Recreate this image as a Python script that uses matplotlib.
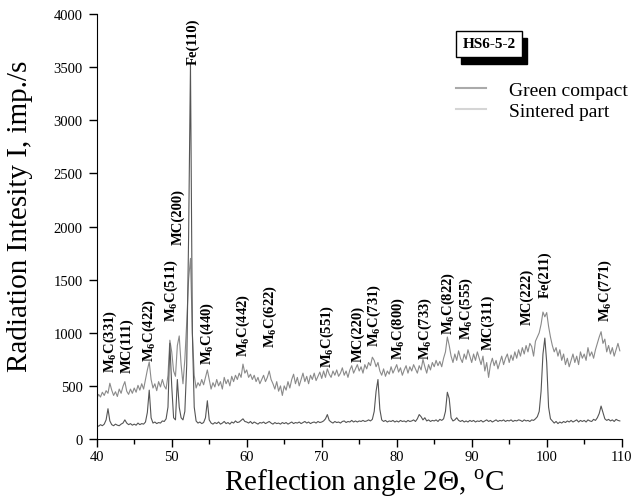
import matplotlib.pyplot as plt
import numpy as np
from matplotlib.lines import Line2D
from matplotlib.patches import Rectangle

plt.rcParams['font.family'] = 'Liberation Serif'
plt.rcParams['mathtext.fontset'] = 'custom'
plt.rcParams['mathtext.rm'] = 'Liberation Serif'
plt.rcParams['mathtext.bf'] = 'Liberation Serif:bold'

# scan grid, 2theta in degrees (0.25 deg step)
two_theta = np.arange(40.0, 110.0, 0.25)

# green compact (upper, noisy curve), imp./s
green = [
    380, 420, 395, 440, 410, 455, 430, 525, 460, 410, 445, 400, 470, 430, 495, 540, 450, 420, 470, 430,
    480, 440, 505, 460, 520, 470, 560, 650, 725, 560, 480, 520, 455, 540, 490, 560, 500, 470, 600, 930,
    820, 640, 590, 880, 970, 700, 520, 750, 1100, 1500, 1700, 1000, 600, 480, 530, 500, 560, 510, 580, 650,
    560, 470, 530, 490, 560, 500, 540, 470, 580, 520, 560, 500, 590, 540, 600, 560, 620, 580, 705, 620,
    650, 580, 610, 560, 600, 540, 580, 520, 560, 600, 540, 580, 640, 560, 520, 470, 540, 450, 500, 410,
    500, 460, 540, 480, 560, 610, 520, 580, 500, 560, 620, 540, 590, 520, 600, 560, 620, 550, 590, 630,
    570, 640, 580, 660, 610, 580, 640, 600, 650, 590, 620, 670, 600, 640, 580, 650, 690, 620, 660, 700,
    640, 680, 620, 700, 660, 720, 690, 770, 740, 680, 720, 640, 600, 660, 590, 640, 610, 680, 620, 660,
    700, 630, 670, 600, 650, 690, 620, 680, 640, 700, 660, 620, 690, 650, 750, 680, 620, 700, 650, 720,
    680, 740, 690, 730, 680, 760, 820, 960, 880, 780, 720, 800, 740, 830, 760, 720, 800, 750, 840, 780,
    720, 800, 740, 820, 760, 700, 780, 640, 720, 580, 700, 760, 690, 740, 660, 720, 780, 700, 760, 800,
    720, 790, 740, 820, 760, 840, 780, 860, 800, 880, 820, 900, 870, 780, 920, 960, 1000, 1080, 1195, 1150,
    1190, 1060, 960, 880, 820, 860, 780, 840, 740, 800, 700, 760, 680, 740, 800, 720, 780, 700, 820, 760,
    800, 740, 860, 780, 820, 760, 840, 900, 960, 1010, 900, 940, 820, 880, 800, 860, 780, 840, 900, 830,
]

# sintered part (lower curve, sharp peaks), imp./s
sintered = [
    130, 120, 135, 125, 140, 180, 285, 170, 135, 125, 140, 130, 125, 140, 150, 180, 150, 135, 145, 130,
    140, 130, 150, 135, 145, 140, 160, 250, 460, 200, 150, 160, 145, 155, 150, 170, 165, 190, 300, 900,
    500, 200, 180, 560, 300, 200, 180, 260, 700, 1900, 3530, 1000, 300, 170, 150, 160, 145, 155, 200, 360,
    180, 150, 140, 155, 145, 160, 140, 150, 165, 145, 155, 140, 160, 150, 170, 155, 160, 175, 190, 165,
    160, 150, 165, 145, 160, 150, 140, 155, 150, 160, 145, 155, 165, 150, 140, 155, 145, 150, 140, 155,
    145, 155, 140, 150, 160, 145, 155, 150, 160, 145, 155, 165, 150, 160, 145, 155, 160, 150, 165, 155,
    160, 170, 190, 230, 175, 160, 150, 165, 155, 160, 150, 165, 170, 155, 165, 160, 175, 160, 170, 160,
    170, 165, 175, 165, 170, 180, 170, 185, 260, 450, 560, 280, 180, 165, 175, 160, 170, 165, 175, 160,
    170, 160, 175, 165, 170, 160, 175, 165, 170, 180, 165, 190, 230, 210, 180, 200, 170, 180, 165, 175,
    170, 180, 165, 185, 175, 190, 260, 440, 380, 200, 170, 180, 200, 175, 165, 175, 160, 170, 160, 175,
    165, 175, 160, 170, 165, 175, 160, 170, 180, 165, 175, 160, 170, 180, 165, 175, 170, 180, 165, 175,
    170, 180, 165, 175, 170, 180, 175, 165, 180, 170, 175, 165, 180, 175, 190, 210, 260, 450, 800, 950,
    720, 300, 190, 170, 150, 165, 145, 160, 150, 165, 155, 170, 160, 175, 160, 170, 180, 160, 175, 165,
    175, 160, 180, 170, 165, 185, 175, 200, 240, 310, 250, 190, 175, 185, 170, 180, 165, 185, 175, 170,
]

# phase labels and where they sit
peak_labels = ['M$_\\mathbf{6}$C(331)', 'MC(111)', 'M$_\\mathbf{6}$C(422)', 'M$_\\mathbf{6}$C(511)',
               'MC(200)', 'Fe(110)', 'M$_\\mathbf{6}$C(440)', 'M$_\\mathbf{6}$C(442)',
               'M$_\\mathbf{6}$C(622)', 'M$_\\mathbf{6}$C(551)', 'MC(220)', 'M$_\\mathbf{6}$C(731)',
               'M$_\\mathbf{6}$C(800)', 'M$_\\mathbf{6}$C(733)', 'M$_\\mathbf{6}$C(822)',
               'M$_\\mathbf{6}$C(555)', 'MC(311)', 'MC(222)', 'Fe(211)', 'M$_\\mathbf{6}$C(771)']
peak_x = [41.8, 44.0, 47.0, 50.0, 50.8, 52.8, 54.8, 59.5, 63.1, 70.8,
          74.9, 77.0, 80.2, 83.8, 86.9, 89.3, 92.2, 97.4, 99.8, 107.8]
peak_y = [630, 630, 735, 1110, 1835, 3530, 705, 780, 865, 680,
          735, 875, 755, 755, 990, 940, 845, 1080, 1335, 1110]

fig = plt.figure(figsize=(6.41, 5.02), dpi=100)
ax = fig.add_axes([0.1509, 0.1235, 0.8190, 0.8466])

ax.plot(two_theta, green, color='#8a8a8a', lw=0.8)
ax.plot(two_theta, sintered, color='#555555', lw=0.8)

for lab, px, py in zip(peak_labels, peak_x, peak_y):
    ax.text(px, py, lab, rotation=90, ha='center', va='bottom',
            fontsize=10.5, fontweight='bold')

ax.set_xlim(40, 110)
ax.set_ylim(0, 4000)
ax.set_xticks(np.arange(40, 111, 10))
ax.set_xticks(np.arange(45, 110, 10), minor=True)
ax.set_yticks(np.arange(0, 4001, 500))
ax.spines['top'].set_visible(False)
ax.spines['right'].set_visible(False)
ax.tick_params(which='major', direction='out', length=6, width=1, labelsize=10.5)
ax.tick_params(which='minor', direction='out', length=3.5, width=1)
ax.tick_params(axis='x', pad=2)
ax.tick_params(axis='y', pad=4)

ax.set_xlabel('Reflection angle 2\u0398, $^\\mathrm{o}$C', fontsize=21)
ax.set_ylabel('Radiation Intesity I, imp./s', fontsize=21)
ax.xaxis.set_label_coords(0.509, -0.065)
ax.yaxis.set_label_coords(-0.122, 0.527)

handles = [Line2D([], [], color='#aaaaaa', lw=1.5),
           Line2D([], [], color='#d5d5d5', lw=1.5)]
ax.legend(handles, ['Green compact', 'Sintered part'], loc='upper left',
          bbox_to_anchor=(0.684, 0.842), frameon=False, fontsize=14,
          borderpad=0, borderaxespad=0, handlelength=1.55,
          handletextpad=1.2, labelspacing=0.2)

# sample tag with drop shadow
fig.add_artist(Rectangle((0.7192, 0.8705), 0.103, 0.0518, transform=fig.transFigure,
                         facecolor='black', edgecolor='black'))
fig.add_artist(Rectangle((0.7114, 0.8845), 0.103, 0.0518, transform=fig.transFigure,
                         facecolor='white', edgecolor='black', lw=1))
fig.text(0.7629, 0.9104, 'HS6-5-2', ha='center', va='center',
         fontsize=11, fontweight='bold')

fig.savefig('out.png', dpi=100)
